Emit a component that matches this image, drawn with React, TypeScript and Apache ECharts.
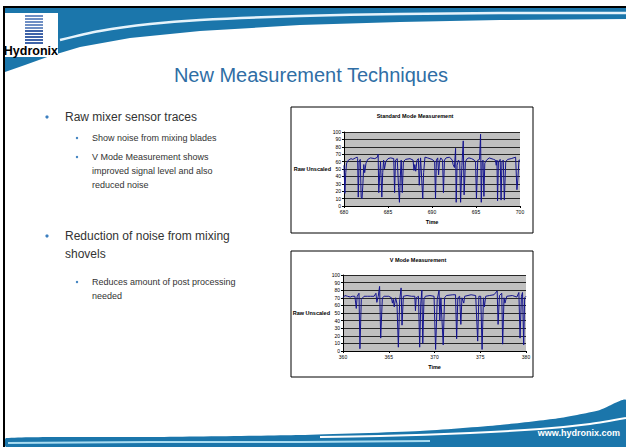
import React, { useEffect, useRef } from "react";
import * as echarts from "echarts";

const slideTitle = "New Measurement Techniques";
const bullets1 = ["Raw mixer sensor traces"];
const subBullets1 = ["Show noise from mixing blades", "V Mode Measurement shows", "improved signal level and also", "reduced noise"];
const bullets2 = ["Reduction of noise from mixing", "shovels"];
const subBullets2 = ["Reduces amount of post processing", "needed"];

const chart1Title = "Standard Mode Measurement";
const chart2Title = "V Mode Measurement";
const yAxisName = "Raw Unscaled";
const xAxisName = "Time";

const standardTimes = [680.0,680.1,680.2,680.3,680.5,680.8,681.0,681.3,681.5,681.55,681.62,681.72,681.85,681.95,682.05,682.15,682.25,682.35,682.5,682.7,683.0,683.5,683.8,683.88,683.95,684.05,684.15,684.3,684.4,684.5,684.6,684.75,685.0,685.3,685.65,685.75,685.85,686.05,686.2,686.3,686.4,686.5,686.62,686.75,687.0,687.5,687.85,687.95,688.05,688.15,688.3,688.45,688.55,688.7,688.95,689.05,689.2,689.5,690.0,690.3,690.4,690.5,690.65,690.75,690.85,691.0,691.2,691.3,691.42,691.6,692.0,692.3,692.4,692.55,692.68,692.75,692.85,693.0,693.15,693.25,693.4,693.55,693.65,693.8,694.0,694.2,694.5,694.8,694.95,695.05,695.2,695.4,695.52,695.6,695.7,695.8,695.9,696.0,696.2,696.5,697.0,697.2,697.3,697.38,697.45,697.55,697.75,697.85,697.95,698.1,698.22,698.38,698.6,699.0,699.5,699.65,699.75,699.88,700.0];
const standardValues = [55,17,45,58,62,64,63,65,66,64,12,60,63,12,10,30,56,45,58,63,65,64,66,70,18,40,60,12,45,62,50,60,64,65,64,18,62,64,25,5,40,62,18,60,63,64,62,48,56,47,62,64,28,65,10,45,66,65,63,60,10,62,65,42,60,65,62,18,62,65,66,62,56,52,78,5,55,62,60,5,55,88,15,60,64,65,64,62,60,10,62,63,97,5,60,62,13,58,62,65,63,62,55,62,7,60,63,8,60,62,8,60,63,64,66,22,35,62,62];

const vModeTimes = [360.0,360.2,360.5,360.8,361.0,361.3,361.45,361.55,361.75,361.85,362.0,362.3,362.7,363.0,363.4,363.6,363.7,363.85,364.0,364.12,364.3,364.5,365.0,365.3,365.4,365.5,365.6,365.75,365.9,366.05,366.2,366.35,366.45,366.6,367.0,367.5,367.85,367.92,368.0,368.25,368.38,368.5,368.62,368.72,368.85,369.0,369.5,369.95,370.12,370.3,370.5,370.58,370.7,370.95,371.1,371.3,372.0,372.3,372.42,372.55,372.75,372.88,373.0,373.2,373.3,374.0,374.5,374.72,374.85,375.05,375.2,375.35,375.45,375.6,376.0,376.5,376.85,376.95,377.1,377.35,377.45,377.6,377.7,377.9,378.5,379.0,379.22,379.35,379.5,379.62,379.75,379.85,380.0];
const vModeValues = [70,73,72,71,72,72,56,72,76,3,68,72,72,72,72,76,64,72,85,17,70,72,72,70,63,68,58,70,62,5,68,83,34,72,73,72,72,53,70,72,5,62,80,10,68,72,73,72,2,68,80,40,70,8,70,73,74,74,16,70,72,35,70,63,72,74,73,13,72,72,2,70,58,72,73,74,79,35,73,76,9,70,63,72,73,71,77,17,72,77,8,70,72];

const yTicks = { min: 0, max: 100, interval: 10 };
const x1Range = { min: 680, max: 700, interval: 5 };
const x2Range = { min: 360, max: 380, interval: 5 };

const FONT = "'Liberation Sans', Arial, sans-serif";
const BLUE = "#1b76ab";

function pairs(xs: number[], ys: number[]) {
  return xs.map((x, i) => [x, ys[i]]);
}

function makeAxes(gridIndex: number, range: { min: number; max: number; interval: number }) {
  const x = {
    type: "value",
    gridIndex,
    z: 3,
    min: range.min,
    max: range.max,
    interval: range.interval,
    name: xAxisName,
    nameLocation: "middle",
    nameGap: 13,
    nameMoveOverlap: false,
    nameTextStyle: { fontSize: 5.5, fontWeight: "bold", color: "#000", fontFamily: FONT },
    axisLine: { lineStyle: { color: "#000", width: 1 } },
    axisTick: { show: true, length: 2, lineStyle: { color: "#000" } },
    axisLabel: { fontSize: 5, color: "#000", margin: 3, fontFamily: FONT },
    splitLine: { show: false },
  };
  const y = {
    type: "value",
    gridIndex,
    z: 3,
    min: yTicks.min,
    max: yTicks.max,
    interval: yTicks.interval,
    name: yAxisName,
    nameLocation: "middle",
    nameRotate: 0,
    nameGap: 13,
    nameMoveOverlap: false,
    nameTextStyle: { fontSize: 5.5, fontWeight: "bold", color: "#000", fontFamily: FONT, align: "right" },
    axisLine: { show: true, lineStyle: { color: "#000", width: 1 } },
    axisTick: { show: true, length: 2, lineStyle: { color: "#000" } },
    axisLabel: { fontSize: 5, color: "#000", margin: 3, fontFamily: FONT },
    splitLine: { show: true, lineStyle: { color: "#000", width: 0.8 } },
  };
  return { x, y };
}

export default function App() {
  const ref = useRef<HTMLDivElement>(null);
  useEffect(() => {
    document.body.style.margin = "0";
    if (!ref.current) return;
    const chart = echarts.init(ref.current, undefined, { renderer: "svg" });
    const a1 = makeAxes(0, x1Range);
    const a2 = makeAxes(1, x2Range);

    const graphics: any[] = [];
    graphics.push({ type: "rect", shape: { x: 0, y: 0, width: 626, height: 447 }, style: { fill: "#fff" }, z: -20 });
    // top band
    graphics.push({
      type: "polygon", z: -15,
      shape: { points: [[5, 7], [626, 7], [626, 19], [500, 20], [400, 22], [300, 25], [200, 31], [130, 38], [80, 47], [50, 56], [25, 65], [5, 72]] },
      style: { fill: BLUE },
    });
    graphics.push({
      type: "polyline", z: -14,
      shape: { points: [[60, 40], [100, 31], [150, 24], [200, 20], [300, 16], [400, 14], [500, 13], [626, 13]], smooth: 0.3 },
      style: { stroke: "#e6f3fb", lineWidth: 2.5, fill: "none" },
    });
    // bottom band
    graphics.push({
      type: "polygon", z: -15,
      shape: { points: [[626, 400], [600, 410], [560, 418], [500, 425], [420, 431], [300, 435], [150, 437], [6, 438], [6, 447], [626, 447]], smooth: 0.2 },
      style: { fill: BLUE },
    });
    graphics.push({
      type: "polyline", z: -14,
      shape: { points: [[626, 418], [590, 424], [540, 429], [470, 433], [380, 436], [320, 437]], smooth: 0.3 },
      style: { stroke: "#ffffff", lineWidth: 2, fill: "none" },
    });
    graphics.push({
      type: "polyline", z: -14,
      shape: { points: [[8, 443], [150, 442], [300, 442], [430, 441]] },
      style: { stroke: "#a9dcf1", lineWidth: 2, fill: "none" },
    });
    graphics.push({
      type: "text", z: -13, x: 620, y: 433,
      style: { text: "www.hydronix.com", fill: "#fff", fontSize: 9, fontWeight: "bold", fontFamily: FONT, align: "right", verticalAlign: "middle" },
    });
    // logo
    graphics.push({ type: "rect", z: -11, shape: { x: 5, y: 13, width: 53, height: 44 }, style: { fill: "#fff" } });
    for (let i = 0; i < 10; i++) {
      graphics.push({
        type: "rect", z: -10,
        shape: { x: 25, y: 15 + i * 3, width: 18, height: 2 },
        style: { fill: i < 5 ? "#6f8fc4" : "#3f63a8" },
      });
    }
    graphics.push({
      type: "text", z: -10, x: 58, y: 51,
      style: { text: "Hydronix", fill: "#000", fontSize: 12.5, fontWeight: "bold", fontFamily: FONT, align: "right", verticalAlign: "middle" },
    });
    // frame lines
    graphics.push({ type: "rect", z: -8, shape: { x: 4, y: 6, width: 622, height: 2 }, style: { fill: "#000" } });
    graphics.push({ type: "rect", z: -8, shape: { x: 3, y: 6, width: 2, height: 441 }, style: { fill: "#000" } });
    // title
    graphics.push({
      type: "text", x: 311, y: 75,
      style: { text: slideTitle, fill: "#2f6ea5", fontSize: 20, fontFamily: FONT, align: "center", verticalAlign: "middle" },
    });
    const dot = (x: number, y: number, r: number) => ({ type: "circle", shape: { cx: x, cy: y, r }, style: { fill: "#3c7fbf" } });
    const txt = (x: number, y: number, s: string, size: number) => ({
      type: "text", x, y,
      style: { text: s, fill: "#333", fontSize: size, fontFamily: FONT, align: "left", verticalAlign: "middle" },
    });
    graphics.push(dot(47, 117, 1.6));
    graphics.push(txt(65, 117, bullets1[0], 12));
    graphics.push(dot(77, 138, 1.2));
    graphics.push(txt(92, 138, subBullets1[0], 9));
    graphics.push(dot(77, 157, 1.2));
    subBullets1.slice(1).forEach((s, i) => graphics.push(txt(92, 157 + i * 14, s, 9)));
    graphics.push(dot(47, 236, 1.6));
    bullets2.forEach((s, i) => graphics.push(txt(65, 236 + i * 18, s, 12)));
    graphics.push(dot(77, 282, 1.2));
    subBullets2.forEach((s, i) => graphics.push(txt(92, 282 + i * 14, s, 9)));
    // chart boxes
    graphics.push({ type: "rect", z: -5, shape: { x: 291, y: 107, width: 242, height: 126 }, style: { fill: "#fff", stroke: "#000", lineWidth: 1 } });
    graphics.push({ type: "rect", z: -5, shape: { x: 291, y: 251, width: 242, height: 126 }, style: { fill: "#fff", stroke: "#000", lineWidth: 1 } });

    chart.setOption({
      animation: false,
      backgroundColor: "#fff",
      title: [
        { text: chart1Title, left: 410, top: 108, textAlign: "center", textStyle: { fontSize: 5.5, fontWeight: "bold", color: "#000", fontFamily: FONT } },
        { text: chart2Title, left: 413, top: 252, textAlign: "center", textStyle: { fontSize: 5.5, fontWeight: "bold", color: "#000", fontFamily: FONT } },
      ],
      grid: [
        { left: 344, top: 132, width: 176, height: 74, show: true, backgroundColor: "#c0c0c0", borderWidth: 0, z: 1 },
        { left: 343, top: 275, width: 183, height: 76, show: true, backgroundColor: "#c0c0c0", borderWidth: 0, z: 1 },
      ],
      xAxis: [a1.x, a2.x],
      yAxis: [a1.y, a2.y],
      graphic: { elements: graphics },
      series: [
        { type: "line", xAxisIndex: 0, yAxisIndex: 0, data: pairs(standardTimes, standardValues), showSymbol: false, lineStyle: { color: "#14148f", width: 1 }, z: 5 },
        { type: "line", xAxisIndex: 1, yAxisIndex: 1, data: pairs(vModeTimes, vModeValues), showSymbol: false, lineStyle: { color: "#14148f", width: 1 }, z: 5 },
      ],
    });
    return () => chart.dispose();
  }, []);
  return <div ref={ref} style={{ width: 626, height: 447 }} />;
}
